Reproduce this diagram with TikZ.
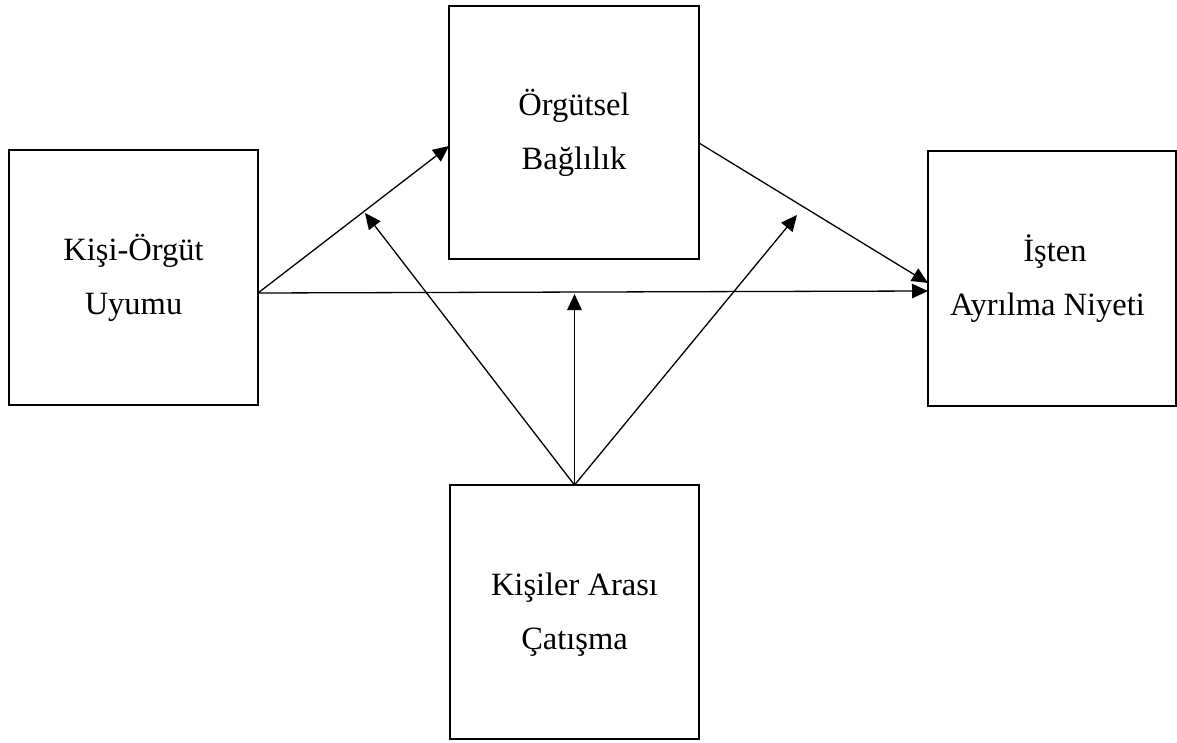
\documentclass[tikz,border=0pt]{standalone}
\usepackage{fontspec}
\setmainfont{Liberation Serif}
\usetikzlibrary{arrows.meta}
% uniform line heights so every two-line label centres the same way
\newcommand\hirow{\vphantom{ÖİĞ}}
\newcommand\lorow{\vphantom{yğç}}
\begin{document}
\begin{tikzpicture}[x=1pt,y=-1pt,
  box/.style={draw, line width=2pt, inner sep=0pt, outer sep=0pt,
    align=center, font=\fontsize{32.5}{54}\selectfont},
  arr/.style={line width=1.3pt, -{Triangle[length=16pt,width=14.5pt]}}]
\useasboundingbox (0,0) rectangle (1177,743);

\node[box, minimum width=249pt, minimum height=255pt] (kou) at (133.5,277.5)
  {\hirow Kişi-Örgüt\\Uyumu\lorow};
\node[box, minimum width=250pt, minimum height=253pt] (ob) at (574,132.5)
  {\hirow Örgütsel\\Bağlılık\lorow};
\node[box, minimum width=248pt, minimum height=255pt] (ian) at (1052,278.5)
  {\hirow\hspace*{6pt}İşten\\Ayrılma Niyeti\lorow\hspace*{9pt}};
\node[box, minimum width=249pt, minimum height=254pt] (kac) at (574.5,612)
  {\hirow Kişiler Arası\\Çatışma\lorow};

% moderator arrows point at the paths they act on
\coordinate (onA) at (365,213);
\coordinate (onB) at (574.5,294);
\coordinate (onC) at (797,215);

\draw[arr] ([yshift=-15.5pt]kou.east) -- ([yshift=-13.5pt]ob.west);
\draw[arr] ([yshift=-15.5pt]kou.east) -- ([yshift=-12.5pt]ian.west);
\draw[arr] ([yshift=-10.5pt]ob.east) -- ([yshift=-4.5pt]ian.west);
\draw[arr] (kac.north) -- (onA);
\draw[arr] (kac.north) -- (onB);
\draw[arr] (kac.north) -- (onC);
\end{tikzpicture}
\end{document}
